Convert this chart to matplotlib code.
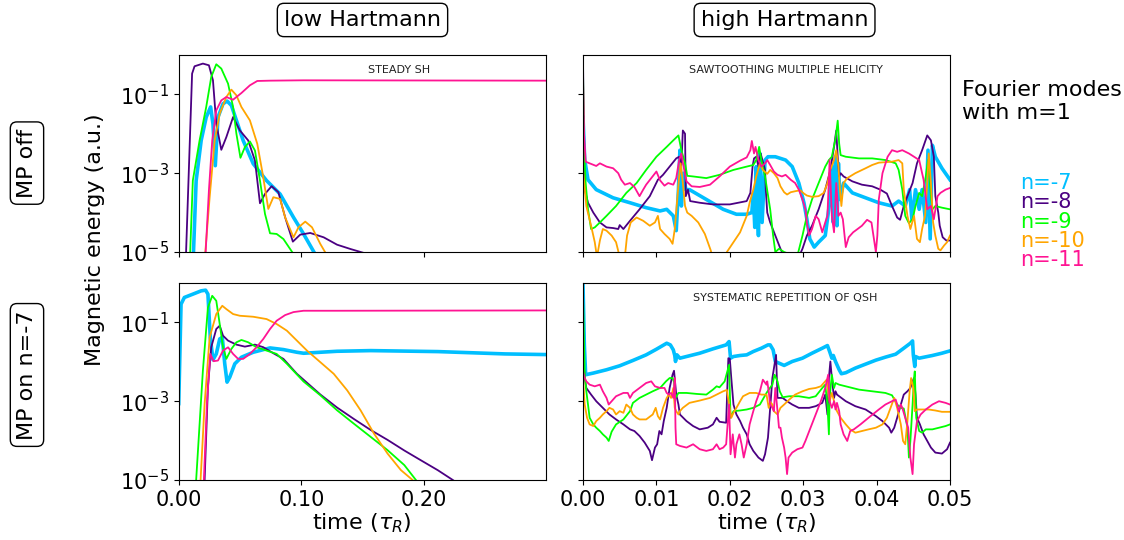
import numpy as np
import matplotlib.pyplot as plt
from matplotlib.ticker import FixedLocator, FormatStrFormatter, NullLocator

modes = ['n=-7', 'n=-8', 'n=-9', 'n=-10', 'n=-11']
colors = ['deepskyblue', 'indigo', 'lime', 'orange', 'deeppink']
widths = [2.6, 1.3, 1.3, 1.3, 1.3]

# (time, log10 magnetic energy)

# low Hartmann, MP off: steady SH
sh_n7 = [(0.0109, -5.22), (0.0120, -5.03), (0.0142, -3.19), (0.0183, -2.17), (0.0224, -1.58),
         (0.0260, -1.32), (0.0279, -1.75), (0.0298, -2.81), (0.0320, -1.58), (0.0361, -1.24),
         (0.0394, -1.17), (0.0429, -1.28), (0.0470, -1.66), (0.0525, -2.17), (0.0607, -2.76),
         (0.0716, -3.19), (0.0826, -3.53), (0.0935, -4.12), (0.1017, -4.54), (0.1118, -5.09)]
sh_n8 = [(0.0050, -5.5), (0.0060, -5.0), (0.0109, -0.475), (0.0129, -0.288), (0.0197, -0.22),
         (0.0246, -0.263), (0.0279, -0.644), (0.0306, -1.746), (0.0347, -2.407), (0.0388, -2.085),
         (0.0443, -1.576), (0.0498, -1.915), (0.0566, -2.169), (0.0621, -2.678), (0.0662, -3.763),
         (0.0703, -3.525), (0.0757, -3.33), (0.0812, -3.483), (0.0867, -4.119), (0.0930, -4.737),
         (0.0990, -4.559), (0.1072, -4.517), (0.1181, -4.627), (0.1290, -4.814), (0.1400, -4.924),
         (0.1510, -5.025), (0.1620, -5.14)]
sh_n9 = [(0.0082, -5.2), (0.0093, -5.03), (0.0115, -3.186), (0.0170, -2.169), (0.0224, -1.322),
         (0.0265, -0.559), (0.0306, -0.237), (0.0347, -0.347), (0.0402, -0.729), (0.0443, -1.322),
         (0.0470, -2.0), (0.0503, -2.61), (0.0539, -2.339), (0.0580, -2.195), (0.0621, -2.424),
         (0.0662, -3.186), (0.0703, -4.034), (0.0744, -4.525), (0.0798, -4.542), (0.0853, -4.67),
         (0.0935, -5.05)]
sh_n10 = [(0.0205, -5.22), (0.0216, -5.03), (0.0252, -3.61), (0.0293, -2.169), (0.0334, -1.49),
          (0.0388, -1.068), (0.0429, -0.881), (0.0470, -1.025), (0.0511, -1.322), (0.0580, -1.661),
          (0.0640, -2.254), (0.0684, -3.017), (0.0730, -3.907), (0.0771, -3.61), (0.0826, -3.653),
          (0.0867, -4.119), (0.0935, -4.627), (0.0976, -4.373), (0.1031, -4.229), (0.1086, -4.373),
          (0.1154, -4.797), (0.1209, -5.09)]
sh_n11 = [(0.0211, -5.22), (0.0219, -5.03), (0.0246, -3.44), (0.0273, -2.169), (0.0306, -1.407),
          (0.0347, -1.153), (0.0388, -1.068), (0.0443, -1.136), (0.0511, -0.966), (0.0580, -0.771),
          (0.0640, -0.661), (0.0744, -0.653), (0.1017, -0.644), (0.3000, -0.653)]

# high Hartmann, MP off: sawtoothing multiple helicity
mh_n7 = [(0.0, -1.583), (0.00023, -2.667), (0.00068, -3.167), (0.0018, -3.417), (0.0041, -3.625),
         (0.0064, -3.75), (0.0086, -3.875), (0.0105, -3.958), (0.0114, -3.917), (0.0123, -4.083),
         (0.0127, -4.458), (0.0130, -3.417), (0.0132, -2.417), (0.0134, -3.833), (0.0137, -3.0),
         (0.0140, -3.417), (0.0145, -3.417), (0.0168, -3.667), (0.0191, -3.917), (0.0209, -4.042),
         (0.0223, -4.042), (0.0230, -4.0), (0.0232, -3.5), (0.0234, -4.375), (0.0236, -2.833),
         (0.0239, -4.583), (0.0241, -2.5), (0.0244, -4.25), (0.0248, -2.667), (0.0252, -2.583),
         (0.0262, -2.583), (0.0276, -2.667), (0.0285, -2.833), (0.0294, -3.25), (0.0301, -3.75),
         (0.0305, -4.167), (0.0309, -4.667), (0.0315, -4.875), (0.0321, -4.75), (0.0330, -4.583),
         (0.0336, -3.75), (0.0339, -2.833), (0.0341, -4.25), (0.0344, -2.583), (0.0346, -4.333),
         (0.0348, -2.75), (0.0350, -3.667), (0.0355, -3.25), (0.0367, -3.5), (0.0385, -3.625),
         (0.0403, -3.75), (0.0421, -3.833), (0.0430, -3.708), (0.0439, -3.833), (0.0445, -3.417),
         (0.0448, -4.167), (0.0453, -3.417), (0.0458, -3.917), (0.0462, -3.417), (0.0467, -4.25),
         (0.0470, -2.417), (0.0473, -4.667), (0.0476, -2.292), (0.0480, -2.583), (0.0489, -2.875),
         (0.0500, -3.167)]
mh_n8 = [(0.0, -0.167), (0.00014, -2.417), (0.00023, -3.417), (0.00068, -3.75), (0.0014, -4.0),
         (0.0023, -4.25), (0.0032, -4.375), (0.0041, -4.392), (0.0048, -4.417), (0.0050, -4.317),
         (0.0055, -4.417), (0.0064, -4.208), (0.0077, -3.917), (0.0091, -3.583), (0.0102, -3.167),
         (0.0109, -3.042), (0.0118, -2.833), (0.0127, -2.625), (0.0131, -2.583), (0.0134, -2.792),
         (0.0136, -1.917), (0.0139, -2.0), (0.0140, -3.583), (0.0143, -3.417), (0.0146, -3.708),
         (0.0159, -3.75), (0.0177, -3.792), (0.0200, -3.792), (0.0223, -3.708), (0.0228, -3.5),
         (0.0231, -2.833), (0.0233, -2.625), (0.0236, -2.583), (0.0239, -2.833), (0.0242, -2.5),
         (0.0248, -2.917), (0.0249, -3.417), (0.0251, -4.0), (0.0255, -4.25), (0.0262, -4.583),
         (0.0269, -4.917), (0.0274, -5.125), (0.0285, -5.25), (0.0294, -5.125), (0.0299, -4.917),
         (0.0305, -4.583), (0.0312, -4.333), (0.0321, -3.917), (0.0330, -3.417), (0.0337, -2.917),
         (0.0342, -2.333), (0.0345, -1.917), (0.0347, -2.583), (0.0349, -3.083), (0.0351, -3.0),
         (0.0355, -3.083), (0.0367, -3.208), (0.0380, -3.292), (0.0394, -3.333), (0.0405, -3.417),
         (0.0414, -3.517), (0.0421, -3.833), (0.0428, -4.125), (0.0432, -4.183), (0.0437, -3.833),
         (0.0442, -3.583), (0.0449, -3.25), (0.0455, -2.75), (0.0462, -2.417), (0.0469, -2.042),
         (0.0474, -2.167), (0.0478, -2.583), (0.0480, -3.583), (0.0484, -4.0), (0.0486, -4.333),
         (0.0490, -4.625), (0.0495, -4.708), (0.0500, -4.708)]
mh_n9 = [(0.0, -0.417), (0.00014, -2.417), (0.00036, -3.25), (0.00068, -3.917), (0.0011, -4.417),
         (0.0016, -4.375), (0.0023, -4.25), (0.0032, -4.083), (0.0045, -3.833), (0.0059, -3.5),
         (0.0073, -3.25), (0.0086, -2.917), (0.0100, -2.583), (0.0114, -2.333), (0.0123, -2.167),
         (0.0130, -2.042), (0.0134, -2.417), (0.0139, -2.75), (0.0142, -3.067), (0.0150, -3.083),
         (0.0168, -3.125), (0.0186, -3.042), (0.0205, -2.917), (0.0223, -2.833), (0.0232, -2.792),
         (0.0236, -2.667), (0.0240, -2.333), (0.0243, -2.667), (0.0248, -3.083), (0.0255, -3.917),
         (0.0259, -4.583), (0.0262, -5.0), (0.0267, -4.917), (0.0274, -5.0), (0.0280, -5.042),
         (0.0287, -5.21), (0.0292, -5.1), (0.0299, -4.583), (0.0305, -4.083), (0.0312, -3.667),
         (0.0321, -3.25), (0.0330, -2.833), (0.0335, -2.667), (0.0339, -2.583), (0.0344, -2.125),
         (0.0347, -1.667), (0.0349, -2.25), (0.0351, -2.542), (0.0358, -2.583), (0.0376, -2.625),
         (0.0394, -2.625), (0.0412, -2.667), (0.0426, -2.75), (0.0430, -2.917), (0.0435, -3.417),
         (0.0439, -4.083), (0.0444, -4.267), (0.0449, -4.167), (0.0453, -3.833), (0.0458, -3.5),
         (0.0462, -3.583), (0.0467, -3.083), (0.0470, -2.667), (0.0474, -3.583), (0.0476, -3.917),
         (0.0480, -3.833), (0.0489, -3.875), (0.0500, -3.917)]
mh_n10 = [(0.0, -2.917), (0.00045, -3.833), (0.0011, -4.333), (0.0016, -4.75), (0.0019, -5.125),
          (0.0023, -4.708), (0.0027, -4.417), (0.0032, -4.458), (0.0039, -4.583), (0.0045, -4.75),
          (0.0050, -5.125), (0.0057, -5.125), (0.0060, -4.583), (0.0065, -4.25), (0.0073, -4.125),
          (0.0082, -4.208), (0.0091, -4.333), (0.0098, -4.25), (0.0102, -4.083), (0.0105, -4.417),
          (0.0111, -4.542), (0.0118, -4.667), (0.0122, -4.792), (0.0125, -4.417), (0.0128, -3.75),
          (0.0131, -3.083), (0.0133, -2.75), (0.0136, -3.25), (0.0139, -3.833), (0.0142, -4.0),
          (0.0148, -4.083), (0.0157, -4.25), (0.0166, -4.542), (0.0174, -4.958), (0.0177, -5.167),
          (0.0191, -5.25), (0.0196, -5.0), (0.0205, -4.75), (0.0214, -4.5), (0.0223, -4.083),
          (0.0227, -3.75), (0.0232, -3.417), (0.0236, -3.083), (0.0241, -2.75), (0.0245, -2.917),
          (0.0251, -3.017), (0.0255, -2.917), (0.0260, -3.0), (0.0265, -3.125), (0.0269, -3.333),
          (0.0274, -3.483), (0.0278, -3.542), (0.0283, -3.483), (0.0289, -3.458), (0.0296, -3.433),
          (0.0301, -3.517), (0.0305, -3.567), (0.0312, -3.6), (0.0321, -3.583), (0.0328, -3.5),
          (0.0333, -3.25), (0.0337, -2.917), (0.0342, -2.667), (0.0345, -2.417), (0.0348, -2.833),
          (0.0350, -3.417), (0.0352, -3.833), (0.0355, -3.25), (0.0360, -3.125), (0.0371, -3.0),
          (0.0385, -2.875), (0.0394, -2.792), (0.0403, -2.733), (0.0421, -2.708), (0.0430, -2.667),
          (0.0435, -2.75), (0.0437, -3.417), (0.0442, -4.083), (0.0446, -4.417), (0.0451, -4.083),
          (0.0455, -4.667), (0.0459, -4.75), (0.0462, -4.417), (0.0466, -4.083), (0.0469, -3.25),
          (0.0471, -2.5), (0.0474, -3.25), (0.0477, -4.25), (0.0480, -4.583), (0.0484, -4.917),
          (0.0487, -4.958), (0.0492, -4.833), (0.0496, -4.75), (0.0500, -4.583)]
mh_n11 = [(0.0, -0.667), (0.00014, -2.0), (0.00036, -2.708), (0.0009, -2.75), (0.0018, -2.817),
          (0.0023, -2.75), (0.0032, -2.833), (0.0041, -2.875), (0.0048, -3.0), (0.0052, -3.167),
          (0.0057, -3.292), (0.0064, -3.25), (0.0070, -3.35), (0.0077, -3.583), (0.0082, -3.417),
          (0.0086, -3.292), (0.0093, -3.125), (0.0100, -2.958), (0.0105, -3.183), (0.0111, -3.317),
          (0.0116, -3.25), (0.0123, -3.292), (0.0127, -3.125), (0.0131, -2.667), (0.0134, -2.5),
          (0.0137, -2.833), (0.0141, -3.208), (0.0148, -3.333), (0.0159, -3.35), (0.0173, -3.292),
          (0.0186, -3.083), (0.0200, -2.833), (0.0214, -2.683), (0.0223, -2.6), (0.0228, -2.417),
          (0.0230, -2.183), (0.0233, -2.5), (0.0235, -2.333), (0.0239, -2.667), (0.0243, -2.833),
          (0.0248, -2.75), (0.0251, -2.667), (0.0255, -2.792), (0.0260, -2.958), (0.0265, -3.042),
          (0.0271, -3.083), (0.0276, -3.042), (0.0283, -3.167), (0.0289, -3.25), (0.0294, -3.417),
          (0.0299, -3.667), (0.0303, -3.917), (0.0305, -4.25), (0.0308, -4.583), (0.0312, -4.417),
          (0.0317, -4.083), (0.0321, -4.167), (0.0326, -4.5), (0.0330, -4.25), (0.0333, -4.083),
          (0.0336, -2.667), (0.0339, -4.083), (0.0342, -4.5), (0.0345, -3.25), (0.0348, -4.083),
          (0.0351, -4.0), (0.0354, -4.167), (0.0358, -4.875), (0.0362, -4.625), (0.0368, -4.5),
          (0.0374, -4.417), (0.0380, -4.333), (0.0387, -4.183), (0.0393, -4.25), (0.0397, -4.75),
          (0.0399, -5.0), (0.0401, -4.583), (0.0403, -3.667), (0.0408, -3.0), (0.0415, -2.583),
          (0.0421, -2.417), (0.0428, -2.458), (0.0435, -2.417), (0.0444, -2.5), (0.0451, -2.583),
          (0.0458, -2.667), (0.0464, -3.167), (0.0469, -3.917), (0.0474, -3.833), (0.0478, -4.167),
          (0.0483, -3.583), (0.0487, -3.5), (0.0494, -3.417), (0.0500, -3.375)]

# low Hartmann, MP on n=-7
lmp_n7 = [(0.0, -3.06), (0.0019, -0.537), (0.0046, -0.368), (0.0115, -0.284), (0.0183, -0.2),
          (0.0219, -0.183), (0.0238, -0.284), (0.0257, -1.379), (0.0279, -1.95), (0.0306, -1.8),
          (0.0334, -1.42), (0.0355, -1.379), (0.0375, -2.05), (0.0394, -2.516), (0.0416, -2.39),
          (0.0457, -2.05), (0.0511, -1.884), (0.0607, -1.758), (0.0744, -1.648), (0.0853, -1.69),
          (0.0963, -1.758), (0.1017, -1.783), (0.1290, -1.733), (0.1564, -1.716), (0.2111, -1.741),
          (0.2658, -1.8), (0.3000, -1.817)]
lmp_n8 = [(0.0205, -5.2), (0.0211, -5.0), (0.0238, -2.64), (0.0265, -1.63), (0.0306, -1.168),
          (0.0334, -1.084), (0.0361, -1.337), (0.0402, -1.463), (0.0470, -1.564), (0.0539, -1.615),
          (0.0621, -1.564), (0.0689, -1.63), (0.0771, -1.783), (0.0853, -1.926), (0.0963, -2.305),
          (0.1154, -2.83), (0.1290, -3.16), (0.1427, -3.45), (0.1564, -3.73), (0.1701, -3.98),
          (0.1838, -4.25), (0.1974, -4.5), (0.2111, -4.75), (0.2234, -5.0), (0.2300, -5.15)]
lmp_n9 = [(0.0137, -5.25), (0.0142, -5.0), (0.0197, -2.22), (0.0238, -0.621), (0.0273, -0.326),
          (0.0306, -0.453), (0.0334, -1.042), (0.0361, -1.63), (0.0388, -1.926), (0.0429, -1.674),
          (0.0470, -1.505), (0.0511, -1.446), (0.0566, -1.505), (0.0634, -1.63), (0.0716, -1.716),
          (0.0798, -1.8), (0.0881, -2.05), (0.1017, -2.5), (0.1154, -2.85), (0.1290, -3.23),
          (0.1427, -3.57), (0.1564, -3.905), (0.1701, -4.24), (0.1838, -4.62), (0.1933, -5.0),
          (0.1980, -5.2)]
lmp_n10 = [(0.0172, -5.2), (0.0178, -5.0), (0.0211, -3.063), (0.0252, -1.379), (0.0306, -0.789),
           (0.0355, -0.579), (0.0388, -0.663), (0.0443, -0.789), (0.0498, -0.832), (0.0607, -0.857),
           (0.0716, -0.916), (0.0798, -1.042), (0.0881, -1.21), (0.0963, -1.463), (0.1045, -1.716),
           (0.1154, -2.01), (0.1263, -2.305), (0.1373, -2.726), (0.1482, -3.232), (0.1591, -3.821),
           (0.1701, -4.326), (0.1810, -4.747), (0.1906, -5.0), (0.1950, -5.2)]
lmp_n11 = [(0.0200, -5.2), (0.0205, -5.0), (0.0230, -3.063), (0.0257, -1.8), (0.0284, -1.985),
           (0.0320, -1.968), (0.0361, -1.716), (0.0402, -1.632), (0.0443, -1.8), (0.0484, -1.926),
           (0.0525, -1.926), (0.0580, -1.8), (0.0634, -1.632), (0.0689, -1.421), (0.0744, -1.168),
           (0.0798, -0.958), (0.0867, -0.815), (0.0935, -0.739), (0.1017, -0.705), (0.1290, -0.705),
           (0.3000, -0.697)]

# high Hartmann, MP on n=-7: systematic repetition of QSH
qsh_n7 = [(0.0, -0.059), (0.00018, -1.571), (0.00036, -2.328), (0.0014, -2.286), (0.0032, -2.202),
          (0.0050, -2.101), (0.0068, -1.966), (0.0086, -1.824), (0.0100, -1.681), (0.0114, -1.529),
          (0.0119, -1.571), (0.0123, -1.697), (0.0125, -1.84), (0.0126, -1.992), (0.0128, -1.824),
          (0.0132, -1.908), (0.0141, -1.866), (0.0159, -1.782), (0.0177, -1.672), (0.0195, -1.571),
          (0.0199, -1.487), (0.0201, -1.908), (0.0205, -1.866), (0.0214, -1.84), (0.0223, -1.824),
          (0.0232, -1.739), (0.0243, -1.655), (0.0252, -1.571), (0.0255, -1.571), (0.0259, -1.697),
          (0.0262, -1.992), (0.0267, -2.034), (0.0274, -2.092), (0.0285, -1.992), (0.0299, -1.908),
          (0.0312, -1.782), (0.0326, -1.655), (0.0333, -1.588), (0.0336, -1.739), (0.0339, -1.908),
          (0.0341, -1.84), (0.0344, -1.992), (0.0349, -2.202), (0.0352, -2.303), (0.0358, -2.277),
          (0.0371, -2.16), (0.0385, -2.059), (0.0399, -1.958), (0.0412, -1.882), (0.0426, -1.807),
          (0.0437, -1.655), (0.0446, -1.529), (0.0449, -1.471), (0.0450, -1.824), (0.0452, -2.118),
          (0.0453, -1.866), (0.0458, -1.908), (0.0467, -1.874), (0.0476, -1.84), (0.0489, -1.782),
          (0.0500, -1.723)]
qsh_n8 = [(0.0, -1.739), (0.00023, -2.412), (0.00045, -2.664), (0.0011, -2.832), (0.0018, -3.0),
          (0.0027, -3.168), (0.0036, -3.336), (0.0045, -3.462), (0.0055, -3.588), (0.0064, -3.714),
          (0.0070, -3.756), (0.0077, -3.882), (0.0084, -4.05), (0.0091, -4.261), (0.0094, -4.496),
          (0.0098, -4.176), (0.0101, -4.092), (0.0104, -3.756), (0.0107, -3.84), (0.0110, -3.504),
          (0.0114, -3.168), (0.0118, -2.664), (0.0122, -2.328), (0.0124, -2.227), (0.0127, -2.832),
          (0.0130, -3.084), (0.0132, -3.336), (0.0141, -3.504), (0.0150, -3.63), (0.0159, -3.714),
          (0.0170, -3.672), (0.0177, -3.588), (0.0182, -3.42), (0.0186, -3.521), (0.0195, -3.546),
          (0.0198, -1.908), (0.0200, -1.924), (0.0202, -2.412), (0.0205, -3.084), (0.0209, -3.336),
          (0.0214, -3.504), (0.0218, -3.672), (0.0223, -3.84), (0.0227, -4.092), (0.0232, -4.261),
          (0.0239, -4.429), (0.0245, -4.513), (0.0248, -4.345), (0.0252, -3.924), (0.0258, -2.412),
          (0.0263, -1.824), (0.0265, -2.916), (0.0272, -2.916), (0.0278, -3.0), (0.0285, -3.084),
          (0.0294, -3.168), (0.0308, -3.168), (0.0317, -3.126), (0.0326, -3.042), (0.0330, -2.832),
          (0.0333, -3.336), (0.0335, -2.412), (0.0337, -1.992), (0.0339, -2.412), (0.0342, -2.916),
          (0.0344, -2.748), (0.0346, -2.832), (0.0349, -2.874), (0.0358, -3.0), (0.0371, -3.126),
          (0.0385, -3.21), (0.0399, -3.378), (0.0408, -3.504), (0.0417, -3.672), (0.0420, -3.798),
          (0.0424, -3.672), (0.0428, -3.42), (0.0433, -3.084), (0.0437, -2.832), (0.0442, -2.748),
          (0.0446, -2.664), (0.0449, -2.496), (0.0451, -2.412), (0.0453, -2.832), (0.0455, -3.42),
          (0.0459, -3.588), (0.0464, -3.84), (0.0474, -4.176), (0.0480, -4.303), (0.0489, -4.328),
          (0.0496, -4.218), (0.0500, -4.05)]
qsh_n9 = [(0.0, -0.311), (0.00014, -1.571), (0.00023, -2.328), (0.00045, -2.748), (0.00068, -3.084),
          (0.0009, -3.42), (0.0014, -3.588), (0.0018, -3.672), (0.0023, -3.756), (0.0027, -3.84),
          (0.0032, -3.924), (0.0035, -4.008), (0.0039, -3.773), (0.0045, -3.588), (0.0055, -3.462),
          (0.0064, -3.252), (0.0068, -3.042), (0.0077, -2.916), (0.0086, -2.832), (0.0095, -2.748),
          (0.0105, -2.664), (0.0113, -2.496), (0.0118, -2.412), (0.0122, -2.412), (0.0124, -2.513),
          (0.0126, -2.916), (0.0130, -2.79), (0.0141, -2.79), (0.0155, -2.815), (0.0168, -2.832),
          (0.0177, -2.706), (0.0182, -2.622), (0.0186, -2.647), (0.0193, -2.496), (0.0199, -2.076),
          (0.0201, -3.42), (0.0205, -3.252), (0.0214, -3.235), (0.0223, -3.21), (0.0232, -3.168),
          (0.0241, -3.084), (0.0250, -2.79), (0.0253, -2.706), (0.0258, -2.58), (0.0261, -2.328),
          (0.0265, -2.496), (0.0268, -2.748), (0.0272, -2.899), (0.0281, -2.874), (0.0294, -2.874),
          (0.0308, -2.916), (0.0317, -2.874), (0.0326, -2.664), (0.0330, -2.58), (0.0333, -3.084),
          (0.0335, -3.84), (0.0336, -2.916), (0.0339, -2.328), (0.0342, -2.664), (0.0344, -2.538),
          (0.0349, -2.58), (0.0358, -2.622), (0.0376, -2.706), (0.0394, -2.748), (0.0412, -2.79),
          (0.0421, -2.849), (0.0428, -3.084), (0.0433, -3.168), (0.0437, -3.185), (0.0442, -3.672),
          (0.0444, -4.429), (0.0446, -4.008), (0.0449, -3.084), (0.0451, -2.412), (0.0452, -2.244),
          (0.0454, -3.42), (0.0458, -3.756), (0.0462, -3.798), (0.0467, -3.714), (0.0476, -3.714),
          (0.0485, -3.672), (0.0494, -3.63), (0.0500, -3.588)]
qsh_n10 = [(0.0, -2.412), (0.00023, -3.084), (0.00055, -3.42), (0.0009, -3.588), (0.0014, -3.63),
           (0.0018, -3.504), (0.0023, -3.42), (0.0027, -3.336), (0.0032, -3.252), (0.0036, -3.168),
           (0.0041, -3.21), (0.0045, -3.336), (0.0050, -3.252), (0.0055, -3.294), (0.0059, -3.084),
           (0.0064, -3.168), (0.0068, -3.336), (0.0073, -3.42), (0.0077, -3.462), (0.0086, -3.462),
           (0.0095, -3.336), (0.0099, -3.168), (0.0102, -3.378), (0.0105, -3.462), (0.0109, -3.168),
           (0.0114, -2.916), (0.0117, -2.832), (0.0120, -2.916), (0.0123, -2.664), (0.0125, -3.168),
           (0.0127, -3.252), (0.0130, -3.336), (0.0132, -3.252), (0.0136, -3.168), (0.0145, -3.042),
           (0.0159, -2.983), (0.0173, -2.916), (0.0182, -2.832), (0.0191, -2.748), (0.0196, -2.714),
           (0.0199, -3.084), (0.0202, -3.42), (0.0205, -3.294), (0.0209, -3.168), (0.0214, -3.0),
           (0.0218, -2.874), (0.0227, -2.79), (0.0236, -2.79), (0.0243, -2.832), (0.0250, -2.832),
           (0.0253, -3.168), (0.0255, -3.017), (0.0258, -3.084), (0.0260, -3.252), (0.0265, -3.336),
           (0.0269, -3.168), (0.0274, -3.084), (0.0281, -2.958), (0.0289, -2.832), (0.0299, -2.748),
           (0.0308, -2.689), (0.0317, -2.664), (0.0324, -2.622), (0.0328, -2.538), (0.0332, -2.454),
           (0.0334, -2.748), (0.0336, -3.0), (0.0339, -2.79), (0.0342, -3.0), (0.0346, -3.252),
           (0.0351, -3.42), (0.0358, -3.588), (0.0364, -3.714), (0.0371, -3.798), (0.0380, -3.756),
           (0.0389, -3.714), (0.0399, -3.672), (0.0408, -3.588), (0.0414, -3.42), (0.0419, -3.168),
           (0.0424, -2.916), (0.0428, -3.168), (0.0433, -3.588), (0.0436, -4.008), (0.0439, -4.092),
           (0.0442, -3.504), (0.0445, -2.748), (0.0447, -2.412), (0.0450, -2.664), (0.0452, -3.252),
           (0.0455, -3.21), (0.0462, -3.21), (0.0471, -3.21), (0.0480, -3.235), (0.0489, -3.269),
           (0.0500, -3.269)]
qsh_n11 = [(0.0, -2.244), (0.00023, -2.412), (0.00045, -2.496), (0.0009, -2.58), (0.0016, -2.622),
           (0.0023, -2.58), (0.0027, -2.748), (0.0032, -2.916), (0.0035, -3.084), (0.0039, -3.0),
           (0.0045, -2.874), (0.0055, -2.79), (0.0061, -2.79), (0.0064, -2.916), (0.0068, -2.79),
           (0.0077, -2.664), (0.0086, -2.538), (0.0093, -2.496), (0.0098, -2.622), (0.0105, -2.664),
           (0.0111, -2.664), (0.0114, -2.79), (0.0117, -2.832), (0.0120, -2.79), (0.0123, -2.916),
           (0.0125, -2.412), (0.0126, -3.672), (0.0127, -4.092), (0.0132, -4.134), (0.0141, -4.176),
           (0.0150, -4.092), (0.0159, -4.218), (0.0168, -4.261), (0.0177, -4.218), (0.0182, -4.092),
           (0.0186, -4.218), (0.0191, -4.176), (0.0195, -4.092), (0.0199, -3.084), (0.0201, -4.345),
           (0.0204, -3.84), (0.0207, -4.429), (0.0209, -4.092), (0.0213, -3.84), (0.0216, -4.092),
           (0.0219, -4.429), (0.0223, -4.092), (0.0227, -3.588), (0.0232, -3.252), (0.0236, -3.0),
           (0.0241, -2.748), (0.0245, -2.454), (0.0250, -2.58), (0.0251, -2.496), (0.0253, -2.748),
           (0.0255, -3.084), (0.0258, -3.168), (0.0260, -3.252), (0.0262, -2.664), (0.0265, -3.252),
           (0.0267, -3.672), (0.0269, -3.672), (0.0271, -3.924), (0.0274, -4.176), (0.0276, -4.429),
           (0.0278, -4.849), (0.0280, -4.429), (0.0285, -4.303), (0.0292, -4.218), (0.0299, -4.176),
           (0.0303, -4.008), (0.0310, -3.672), (0.0317, -3.336), (0.0324, -3.0), (0.0330, -2.664),
           (0.0334, -2.328), (0.0336, -3.0), (0.0339, -3.168), (0.0342, -3.0), (0.0344, -3.21),
           (0.0346, -3.042), (0.0349, -3.252), (0.0351, -3.588), (0.0355, -3.84), (0.0360, -4.008),
           (0.0364, -3.756), (0.0369, -3.714), (0.0378, -3.588), (0.0389, -3.42), (0.0403, -3.21),
           (0.0412, -3.084), (0.0421, -3.0), (0.0426, -2.958), (0.0428, -3.084), (0.0430, -3.252),
           (0.0433, -3.084), (0.0435, -3.168), (0.0439, -3.42), (0.0443, -3.672), (0.0446, -4.429),
           (0.0449, -4.849), (0.0451, -4.092), (0.0455, -3.504), (0.0460, -3.336), (0.0467, -3.21),
           (0.0476, -3.084), (0.0485, -3.0), (0.0494, -3.042), (0.0500, -3.084)]

panels = [
    ([sh_n7, sh_n8, sh_n9, sh_n10, sh_n11], 'STEADY SH'),
    ([mh_n7, mh_n8, mh_n9, mh_n10, mh_n11], 'SAWTOOTHING MULTIPLE HELICITY'),
    ([lmp_n7, lmp_n8, lmp_n9, lmp_n10, lmp_n11], ''),
    ([qsh_n7, qsh_n8, qsh_n9, qsh_n10, qsh_n11], 'SYSTEMATIC REPETITION OF QSH'),
]

fig = plt.figure(figsize=(11.24, 5.4), dpi=100)
lefts = [0.159, 0.5187]
bottoms = [0.5333, 0.111]
for i, (curves, note) in enumerate(panels):
    row, col = divmod(i, 2)
    ax = fig.add_axes([lefts[col], bottoms[row], 0.3265, 0.365])
    for curve, c, lw in zip(curves, colors, widths):
        t, loge = np.array(curve).T
        ax.plot(t, 10.0 ** loge, color=c, lw=lw)
    ax.set_yscale('log')
    ax.set_ylim(1e-5, 1.0)
    ax.yaxis.set_major_locator(FixedLocator([1e-5, 1e-3, 1e-1]))
    ax.yaxis.set_minor_locator(NullLocator())
    if col == 0:
        ax.set_xlim(0, 0.299)
        ax.set_xticks([0.0, 0.1, 0.2])
    else:
        ax.set_xlim(0, 0.05)
        ax.set_xticks([0.0, 0.01, 0.02, 0.03, 0.04, 0.05])
        ax.tick_params(axis='y', labelleft=False)
    ax.xaxis.set_major_formatter(FormatStrFormatter('%.2f'))
    ax.tick_params(labelsize=15, length=3.5)
    if row == 0:
        ax.tick_params(axis='x', labelbottom=False)
    else:
        ax.set_xlabel(r'time ($\tau_R$)', fontsize=16, labelpad=1)
    if note:
        ax.text(0.6 if col == 0 else 0.552, 0.922, note, transform=ax.transAxes,
                ha='center', va='center', fontsize=8, color='#222222')

box = dict(boxstyle='round,pad=0.3', fc='white', ec='black', lw=1)
fig.text(0.3225, 0.963, 'low Hartmann', ha='center', va='center', fontsize=16, bbox=box)
fig.text(0.698, 0.963, 'high Hartmann', ha='center', va='center', fontsize=16, bbox=box)
fig.text(0.024, 0.698, 'MP off', rotation=90, ha='center', va='center', fontsize=16, bbox=box)
fig.text(0.024, 0.3056, 'MP on n=-7', rotation=90, ha='center', va='center', fontsize=16, bbox=box)
fig.text(0.0845, 0.556, 'Magnetic energy (a.u.)', rotation=90, ha='center', va='center', fontsize=16)
fig.text(0.856, 0.852, 'Fourier modes\nwith m=1', ha='left', va='top', fontsize=16)
for i, (m, c) in enumerate(zip(modes, colors)):
    fig.text(0.9075, 1 - (183 + i * 19.3) / 540, m, color=c, ha='left', va='center', fontsize=15)

fig.savefig('out.png', dpi=100)
